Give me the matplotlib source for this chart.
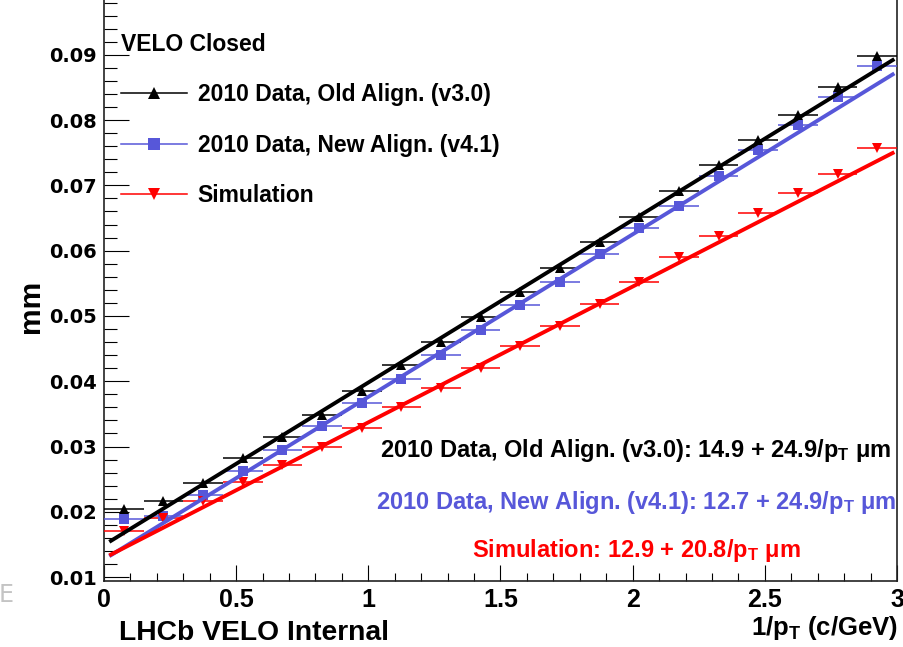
import matplotlib
matplotlib.use('Agg')
import matplotlib.pyplot as plt
from matplotlib.lines import Line2D
from matplotlib.ticker import MultipleLocator, FuncFormatter

SANS = 'Liberation Sans'

plt.rcParams['mathtext.fontset'] = 'custom'
plt.rcParams['mathtext.rm'] = 'Liberation Sans:bold'
plt.rcParams['mathtext.it'] = 'Liberation Sans:bold'
plt.rcParams['mathtext.bf'] = 'Liberation Sans:bold'
plt.rcParams['mathtext.default'] = 'rm'

# ---- data (values in mm) ----
bin_centers = [0.075, 0.225, 0.375, 0.525, 0.675, 0.825, 0.975, 1.125, 1.275, 1.425,
               1.575, 1.725, 1.875, 2.025, 2.175, 2.325, 2.475, 2.625, 2.775, 2.925]
bin_halfwidth = 0.075
old_align = [0.0204, 0.0217, 0.0244, 0.0282, 0.0314, 0.0349, 0.0385, 0.0425, 0.0460, 0.0498,
             0.0537, 0.0574, 0.0614, 0.0652, 0.0691, 0.0731, 0.0769, 0.0808, 0.0851, 0.0898]
new_align = [0.0189, 0.0194, 0.0226, 0.0262, 0.0295, 0.0331, 0.0366, 0.0403, 0.0440, 0.0478,
             0.0517, 0.0552, 0.0595, 0.0635, 0.0669, 0.0714, 0.0754, 0.0792, 0.0835, 0.0883]
simulation = [0.0170, 0.0191, 0.0217, 0.0245, 0.0272, 0.0300, 0.0329, 0.0360, 0.0389, 0.0420,
              0.0454, 0.0485, 0.0518, 0.0552, 0.0591, 0.0622, 0.0657, 0.0689, 0.0718, 0.0757]

# fit parameters (um): intercept, slope in 1/pT
fit_old = (14.9, 24.9)
fit_new = (12.7, 24.9)
fit_sim = (12.9, 20.8)
fit_range = [0.02, 2.99]

labels = ['2010 Data, Old Align. (v3.0)', '2010 Data, New Align. (v4.1)', 'Simulation']
fit_texts = [r'2010 Data, Old Align. (v3.0): 14.9 + 24.9/p$_\mathregular{T}$ μm',
             r'2010 Data, New Align. (v4.1): 12.7 + 24.9/p$_\mathregular{T}$ μm',
             r'Simulation: 12.9 + 20.8/p$_\mathregular{T}$ μm']
BLACK = '#000000'
BLUE = '#5757d9'
RED = '#ff0000'

fig = plt.figure(figsize=(9.04, 6.47), dpi=100)
ax = fig.add_axes([104/904, 1-581/647, (897-104)/904, (581+2)/647])

series = [(old_align, BLACK, '^'), (new_align, BLUE, 's'), (simulation, RED, 'v')]
for vals, c, m in series:
    ax.errorbar(bin_centers, vals, xerr=bin_halfwidth, fmt=m, color=c, ms=7.3,
                elinewidth=1.1, capsize=0, zorder=3, mew=0)

for (a, b), c in zip([fit_old, fit_new, fit_sim], [BLACK, BLUE, RED]):
    ys = [(a + b * xx) / 1000.0 for xx in fit_range]
    ax.plot(fit_range, ys, color=c, lw=2.8, zorder=4, solid_capstyle='butt')

ax.set_xlim(0, 3)
ax.set_ylim(0.0094, 0.0987)

ax.xaxis.set_major_locator(MultipleLocator(0.5))
ax.xaxis.set_minor_locator(MultipleLocator(0.1))
ax.yaxis.set_major_locator(MultipleLocator(0.01))
ax.yaxis.set_minor_locator(MultipleLocator(0.002))
ax.xaxis.set_major_formatter(FuncFormatter(lambda v, p: '%g' % v))
ax.yaxis.set_major_formatter(FuncFormatter(lambda v, p: '%.2f' % v))

ax.tick_params(axis='y', which='major', direction='in', length=18, width=0.8, pad=5)
ax.tick_params(axis='y', which='minor', direction='in', length=9.4, width=0.8)
ax.tick_params(axis='x', which='major', direction='in', length=11.5, width=0.8, pad=5)
ax.tick_params(axis='x', which='minor', direction='in', length=5.8, width=0.8)
for s in ax.spines.values():
    s.set_linewidth(1.2)
    s.set_color('#222222')

for lab in ax.get_yticklabels():
    lab.set_fontfamily('DejaVu Sans')
    lab.set_fontweight('bold')
    lab.set_fontsize(14)
for lab in ax.get_xticklabels():
    lab.set_fontfamily(SANS)
    lab.set_fontweight('bold')
    lab.set_fontsize(18)

ax.set_ylabel('mm', family=SANS, fontweight='bold', fontsize=21.5)
ax.yaxis.set_label_coords(-0.074, (1 - 306/647 - (1-581/647)) / ((581+2)/647))

fig.text(898/904, 1-628/647, r'1/p$_\mathregular{T}$ (c/GeV)', family=SANS, fontweight='bold',
         fontsize=18.5, ha='right', va='center')
fig.text(119/904, 1-633/647, 'LHCb VELO Internal', family=SANS, fontweight='bold',
         fontsize=20.3, ha='left', va='center')
fig.text(-0.002, 1-595/647, 'E', color='#c4c4c4', fontsize=17, ha='left', va='center',
         family='DejaVu Sans')

# legend
handles = [Line2D([], [], color=c, marker=m, ms=8.5, lw=1.1, mew=0) for _, c, m in series]
leg = ax.legend(handles, labels, title='VELO Closed', loc='upper left',
                bbox_to_anchor=(121/904, 1-33/647), bbox_transform=fig.transFigure,
                frameon=False, borderpad=0, borderaxespad=0,
                prop={'family': SANS, 'weight': 'bold', 'size': 16.5},
                handlelength=2.9, handletextpad=0.45, labelspacing=1.2)
leg.get_title().set_fontfamily(SANS)
leg.get_title().set_fontweight('bold')
leg.get_title().set_fontsize(16.5)
leg._legend_box.align = 'left'

# fit annotations
for txt, c, ypx in zip(fit_texts, [BLACK, BLUE, RED], [450, 503, 551]):
    fig.text(636/904, 1-ypx/647, txt, color=c, family=SANS, fontweight='bold',
             fontsize=17, ha='center', va='center')

fig.savefig('out.png', dpi=100)
